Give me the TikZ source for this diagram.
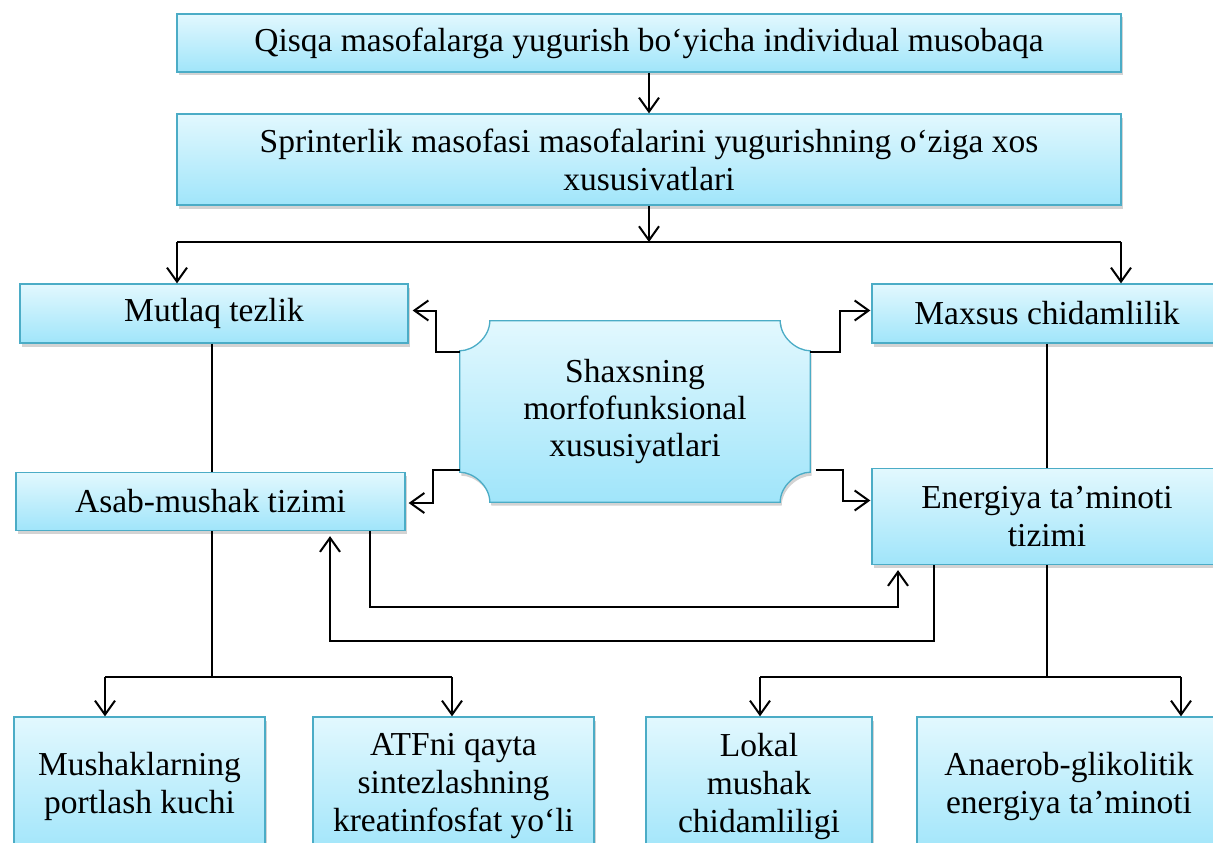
\documentclass[tikz,border=0pt]{standalone}
\usepackage{fontspec}
\setmainfont{Liberation Serif}
\usetikzlibrary{calc, positioning, arrows.meta, shadows, backgrounds}

\definecolor{boxtop}{RGB}{226,248,254}
\definecolor{boxbot}{RGB}{160,229,250}
\definecolor{boxline}{RGB}{75,172,198}

\tikzset{
  blockbox/.style={draw=boxline, line width=1.3, top color=boxtop, bottom color=boxbot,
    drop shadow={shadow xshift=1.5pt, shadow yshift=-3.5pt, opacity=0.35},
    align=center, inner sep=0, font=\fontsize{33.5}{38}\selectfont},
  link/.style={line width=2, black},
  arr/.style={link, -{Straight Barb[length=14pt, width=20pt, line width=2pt]}},
}

\begin{document}
\begin{tikzpicture}[x=1pt, y=-1pt]

  \useasboundingbox (0,0) rectangle (1213,843);

  % top row
  \node[blockbox, minimum width=944, minimum height=58] (race) at (649,43)
    {Qisqa masofalarga yugurish bo‘yicha individual musobaqa};
  \node[blockbox, minimum width=944, minimum height=91] (sprint) at (649,159.5)
    {Sprinterlik masofasi masofalarini yugurishning o‘ziga xos\\xususivatlari};

  % middle row
  \node[blockbox, minimum width=388, minimum height=59] (speed) at (214,313.5) {Mutlaq tezlik};
  \node[blockbox, minimum width=350, minimum height=59] (endur) at (1047,313.5) {Maxsus chidamlilik};
  \node[blockbox, minimum width=389, minimum height=58] (neuro) at (210.5,501.5) {Asab-mushak tizimi};
  \node[blockbox, minimum width=350, minimum height=96] (energy) at (1047,516.5) {Energiya ta’minoti\\tizimi};

  % centre plaque
  \node[minimum width=350, minimum height=181, inner sep=0] (morph) at (635,411.5) {};
  \begin{scope}[on background layer]
    \path[blockbox]
      ($(morph.north west)+(30,0)$) -- ($(morph.north east)+(-30,0)$)
      .. controls ($(morph.north east)+(-30,16.5)$) and ($(morph.north east)+(-13.5,30)$) .. ($(morph.north east)+(0,30)$)
      -- ($(morph.south east)+(0,-30)$)
      .. controls ($(morph.south east)+(-13.5,-30)$) and ($(morph.south east)+(-30,-16.5)$) .. ($(morph.south east)+(-30,0)$)
      -- ($(morph.south west)+(30,0)$)
      .. controls ($(morph.south west)+(30,-16.5)$) and ($(morph.south west)+(13.5,-30)$) .. ($(morph.south west)+(0,-30)$)
      -- ($(morph.north west)+(0,30)$)
      .. controls ($(morph.north west)+(13.5,30)$) and ($(morph.north west)+(30,16.5)$) .. cycle;
  \end{scope}
  \node[align=center, font=\fontsize{33.5}{37}\selectfont] (morph-text) at (morph)
    {Shaxsning\\morfofunksional\\xususiyatlari};

  % bottom row
  \node[blockbox, minimum width=251, minimum height=138] (blast) at (139.5,786) {Mushaklarning\\portlash kuchi};
  \node[blockbox, minimum width=281, minimum height=138] (atf) at (453.5,786) {ATFni qayta\\sintezlashning\\kreatinfosfat yo‘li};
  \node[blockbox, minimum width=226, minimum height=138] (local) at (759,786) {Lokal\\mushak\\chidamliligi};
  \node[blockbox, minimum width=304, minimum height=138] (glyco) at (1069,786) {Anaerob-glikolitik\\energiya ta’minoti};

  % branch points
  \coordinate (split-mid)   at (sprint.south |- 0,242);
  \coordinate (split-left)  at (177,242);
  \coordinate (split-right) at (1121,242);
  \coordinate (low-left-a)  at (105,677);
  \coordinate (low-left-b)  at (452,677);
  \coordinate (low-right-a) at (760,677);
  \coordinate (low-right-b) at (1181,677);

  \draw[arr] (race) -- (sprint);
  \draw[arr] (sprint.south) -- (split-mid);
  \draw[link] (split-left) -- (split-right);
  \draw[arr] (split-left) -- (split-left |- speed.north);
  \draw[arr] (split-right) -- (split-right |- endur.north);

  % plaque to the four systems
  \draw[arr] (morph.west |- 0,352) -- ++(-24,0) |- ($(speed.east)+(4,-3)$);
  \draw[arr] (morph.east |- 0,352) -- ++(30,0) |- ($(endur.west)+(-1,-3)$);
  \draw[arr] (morph.west |- 0,470) -- ++(-27,0) |- ($(neuro.east)+(3,1.5)$);
  \draw[arr] ($(morph.east |- 0,470)+(6,0)$) -- ++(27,0) |- ($(energy.west)+(-1,-16)$);

  % vertical links
  \draw[line width=1.6] (speed.south -| 212,0) -- (neuro.north -| 212,0);
  \draw[line width=1.6] (endur.south) -- (energy.north);
  \draw[line width=1.6] (neuro.south -| 212,0) -- (low-left-a -| 212,0);
  \draw[line width=1.6] (energy.south) -- (energy.south |- low-right-a);
  \draw[link] (low-left-a) -- (low-left-b);
  \draw[link] (low-right-a) -- (low-right-b);
  \draw[arr] (low-left-a) -- (low-left-a |- blast.north);
  \draw[arr] (low-left-b) -- (low-left-b |- atf.north);
  \draw[arr] (low-right-a) -- (low-right-a |- local.north);
  \draw[arr] (low-right-b) -- (low-right-b |- glyco.north);

  % feedback loops
  \draw[arr] (neuro.south -| 370,0) |- (898,607) -- ($(energy.south -| 898,0)+(0,5)$);
  \draw[arr] (energy.south -| 934,0) |- (330,641) -- ($(neuro.south -| 330,0)+(0,5)$);

\end{tikzpicture}
\end{document}
